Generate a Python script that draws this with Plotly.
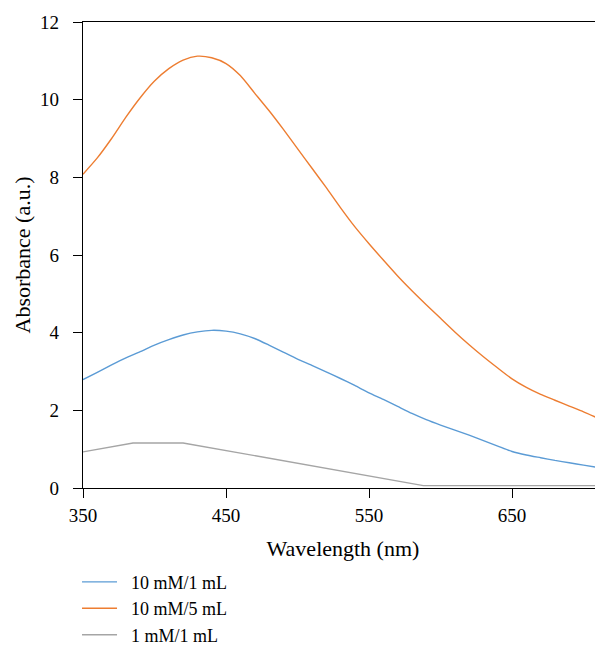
import plotly.graph_objects as go

# wavelength grid (nm)
wl = [350, 360, 370, 380, 390, 400, 410, 420, 430, 440, 450, 460, 470, 480, 490,
      500, 510, 520, 530, 540, 550, 560, 570, 580, 590, 600, 610, 620, 630, 640,
      650, 660, 670, 680, 690, 700, 713]

abs_10mM_1mL = [2.79, 2.98, 3.17, 3.35, 3.51, 3.68, 3.82, 3.94, 4.02, 4.06, 4.04,
                3.97, 3.85, 3.68, 3.50, 3.32, 3.16, 2.99, 2.82, 2.64, 2.45, 2.28,
                2.10, 1.92, 1.76, 1.62, 1.49, 1.36, 1.22, 1.08, 0.94, 0.85, 0.78,
                0.71, 0.65, 0.59, 0.51]

abs_10mM_5mL = [8.08, 8.50, 9.00, 9.55, 10.05, 10.48, 10.80, 11.02, 11.12, 11.08,
                10.93, 10.62, 10.17, 9.72, 9.24, 8.74, 8.24, 7.74, 7.22, 6.73,
                6.29, 5.87, 5.46, 5.08, 4.72, 4.37, 4.02, 3.69, 3.38, 3.09, 2.81,
                2.59, 2.41, 2.26, 2.11, 1.96, 1.75]

wl_1mM = [350, 385, 420, 588, 713]
abs_1mM_1mL = [0.93, 1.16, 1.16, 0.06, 0.06]

FONT = "Liberation Serif"

fig = go.Figure()
fig.add_trace(go.Scatter(x=wl, y=abs_10mM_1mL, mode="lines", name="  10 mM/1 mL",
                         line=dict(color="#5B9BD5", width=1.4, shape="spline", smoothing=0.6)))
fig.add_trace(go.Scatter(x=wl, y=abs_10mM_5mL, mode="lines", name="  10 mM/5 mL",
                         line=dict(color="#ED7D31", width=1.4, shape="spline", smoothing=0.6)))
fig.add_trace(go.Scatter(x=wl_1mM, y=abs_1mM_1mL, mode="lines", name="  1 mM/1 mL",
                         line=dict(color="#A5A5A5", width=1.4)))

# the page body adds an 8px margin, so the figure is sized to fit the window
fig.update_layout(
    width=595, height=639,
    margin=dict(l=75, r=0, t=14, b=159, autoexpand=False),
    paper_bgcolor="white", plot_bgcolor="white",
    font=dict(family=FONT, size=18, color="black"),
    showlegend=True,
    legend=dict(x=-0.0115, y=-0.1625, xanchor="left", yanchor="top",
                font=dict(size=18), tracegroupgap=0, itemwidth=35),
)
fig.update_xaxes(
    range=[350, 713.6], tickvals=[350, 450, 550, 650],
    showgrid=False, zeroline=False,
    showline=True, linecolor="black", linewidth=1.3, mirror=True,
    ticks="outside", ticklen=9, tickwidth=1.3, tickcolor="black",
    ticklabelstandoff=1, tickfont=dict(size=19),
    title=dict(text="Wavelength (nm)", standoff=15),
)
fig.update_yaxes(
    range=[0, 12], tickvals=[0, 2, 4, 6, 8, 10, 12],
    showgrid=False, zeroline=False,
    showline=True, linecolor="black", linewidth=1.3,
    ticks="outside", ticklen=9, tickwidth=1.3, tickcolor="black",
    ticklabelstandoff=10, tickfont=dict(size=19),
    title=dict(text="Absorbance (a.u.)", standoff=3),
)

fig.write_html("out.html")
